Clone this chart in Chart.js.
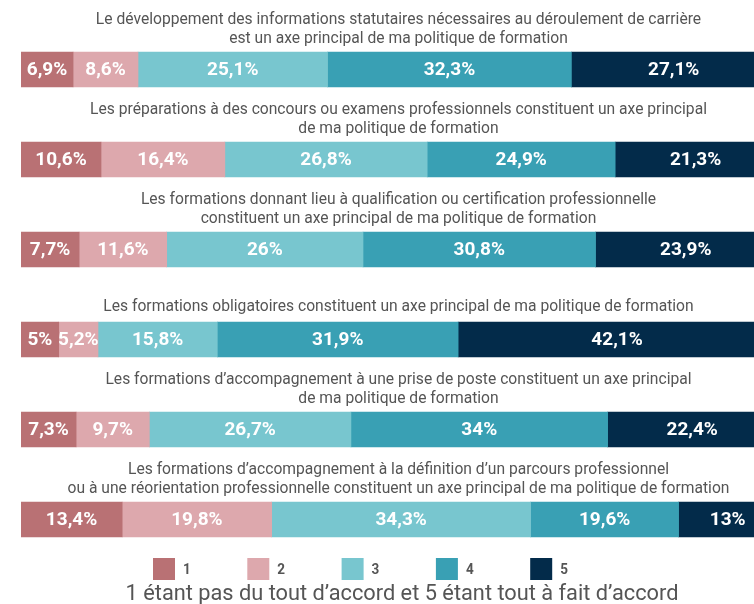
<!DOCTYPE html>
<html>
<head>
<meta charset="utf-8">
<script src="https://cdn.jsdelivr.net/npm/chart.js@4/dist/chart.umd.min.js"></script>
<style>
  html, body { margin: 0; padding: 0; background: #fff; overflow: hidden; }
  #wrap { width: 776px; height: 604px; }
</style>
</head>
<body>
<div id="wrap"><canvas id="chart1" width="776" height="604"></canvas></div>
<script>
const categories = [
    ['Le développement des informations statutaires nécessaires au déroulement de carrière', 'est un axe principal de ma politique de formation'],
    ['Les préparations à des concours ou examens professionnels constituent un axe principal', 'de ma politique de formation'],
    ['Les formations donnant lieu à qualification ou certification professionnelle', 'constituent un axe principal de ma politique de formation'],
    ['Les formations obligatoires constituent un axe principal de ma politique de formation'],
    ['Les formations d\u2019accompagnement à une prise de poste constituent un axe principal', 'de ma politique de formation'],
    ['Les formations d\u2019accompagnement à la définition d\u2019un parcours professionnel', 'ou à une réorientation professionnelle constituent un axe principal de ma politique de formation']
];
const level1 = [6.9, 10.6, 7.7, 5, 7.3, 13.4];
const level2 = [8.6, 16.4, 11.6, 5.2, 9.7, 19.8];
const level3 = [25.1, 26.8, 26, 15.8, 26.7, 34.3];
const level4 = [32.3, 24.9, 30.8, 31.9, 34, 19.6];
const level5 = [27.1, 21.3, 23.9, 42.1, 22.4, 13];
const legendLabels = ['1', '2', '3', '4', '5'];
const subtitle = '1 étant pas du tout d\u2019accord et 5 étant tout à fait d\u2019accord';

const colors = [
    'rgb(185, 113, 116)',
    'rgb(221, 168, 173)',
    'rgb(120, 198, 207)',
    'rgb(57, 160, 180)',
    'rgb(3, 43, 74)'
];

const series = [level1, level2, level3, level4, level5];

const textGrey = 'rgb(85, 85, 85)';

// text squeezed horizontally, the original uses a narrow face
function narrowText(ctx, txt, x, y, sx) {
    ctx.save();
    ctx.translate(x, y);
    ctx.scale(sx, 1);
    ctx.fillText(txt, 0, 0);
    ctx.restore();
}

// titles above bars, labels inside, legend + note at bottom
const decorations = {
    id: 'decorations',
    afterDatasetsDraw(chart) {
        const ctx = chart.ctx;
        const area = chart.chartArea;
        const yScale = chart.scales.y;
        const cx = (area.left + area.right) / 2;

        ctx.save();
        ctx.textAlign = 'center';
        ctx.textBaseline = 'middle';

        // values in the segments
        ctx.fillStyle = '#fff';
        ctx.font = 'bold 19px Roboto, sans-serif';
        chart.data.datasets.forEach((ds, di) => {
            chart.getDatasetMeta(di).data.forEach((bar, i) => {
                const txt = String(ds.data[i]).replace('.', ',') + '%';
                narrowText(ctx, txt, (bar.x + bar.base) / 2, bar.y + 1, 1);
            });
        });

        // row titles
        ctx.fillStyle = textGrey;
        ctx.font = '17px Roboto, sans-serif';
        categories.forEach((lines, i) => {
            const top = yScale.getPixelForValue(i) - 17.5;
            if (lines.length === 1) {
                narrowText(ctx, lines[0], cx, top - 15, 0.92);
            } else {
                narrowText(ctx, lines[0], cx, top - 32.5, 0.92);
                narrowText(ctx, lines[1], cx, top - 13.5, 0.92);
            }
        });

        // legend
        ctx.textAlign = 'left';
        ctx.font = 'bold 15px Roboto, sans-serif';
        legendLabels.forEach((lab, i) => {
            const x = 153 + i * 94.3;
            ctx.fillStyle = colors[i];
            ctx.fillRect(x, 558, 22, 22);
            ctx.fillStyle = textGrey;
            narrowText(ctx, lab, x + 30, 570, 0.9);
        });

        ctx.textAlign = 'center';
        ctx.font = '22px Roboto, sans-serif';
        narrowText(ctx, subtitle, 402, 594, 0.99);
        ctx.restore();
    }
};

const config1 = {
    type: 'bar',
    data: {
        labels: categories.map(c => c.join(' ')),
        datasets: series.map((vals, k) => ({
            label: legendLabels[k],
            data: vals,
            backgroundColor: colors[k],
            borderWidth: 0,
            barThickness: 35
        }))
    },
    options: {
        indexAxis: 'y',
        responsive: false,
        animation: false,
        devicePixelRatio: 1,
        layout: {
            padding: { left: 21, right: 0, top: 24.5, bottom: 39.5 }
        },
        scales: {
            x: { stacked: true, min: 0, max: 100, display: false },
            y: { stacked: true, display: false }
        },
        plugins: {
            legend: { display: false },
            tooltip: { enabled: false }
        }
    },
    plugins: [decorations]
};

const myChart1 = new Chart(document.getElementById('chart1').getContext('2d'), config1);
</script>
</body>
</html>
